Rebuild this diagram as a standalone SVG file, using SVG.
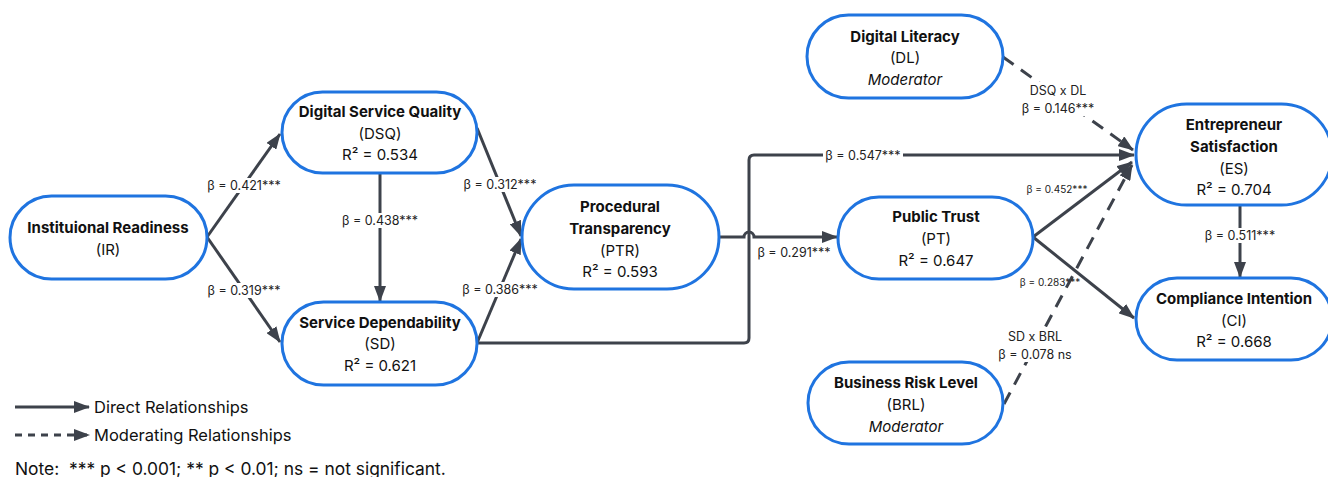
<svg xmlns="http://www.w3.org/2000/svg" width="1328" height="477" viewBox="0 0 1328 477">
  <style>
    .node { fill: #ffffff; stroke: #1f74e0; stroke-width: 3; }
    .t { font-family: Inter, "Liberation Sans", sans-serif; font-size: 15px; fill: #111; text-anchor: middle; dominant-baseline: central; }
    .b { font-weight: 700; }
    .i { font-style: italic; }
    .edge { fill: none; stroke: #3d424b; stroke-width: 3; }
    .dash { stroke-dasharray: 13 9; }
    .lbl { font-family: Inter, "Liberation Sans", sans-serif; font-size: 12.5px; fill: #222; text-anchor: middle; dominant-baseline: central; }
    .sm { font-size: 10px; }
    .bg { fill: #ffffff; }
    .leg { font-family: Inter, "Liberation Sans", sans-serif; font-size: 16.5px; fill: #111; dominant-baseline: central; }
  </style>
  <defs>
    <marker id="arrow" viewBox="0 0 16 12" refX="15" refY="6" markerWidth="16" markerHeight="12" markerUnits="userSpaceOnUse" orient="auto">
      <path d="M0,0 L16,6 L0,12 Z" fill="#3d424b"/>
    </marker>
  </defs>

  <!-- connectors -->
  <g id="connectors">
    <path class="edge" d="M207,237 L280,134" marker-end="url(#arrow)"/>
    <path class="edge" d="M207,237 L280,342" marker-end="url(#arrow)"/>
    <path class="edge" d="M380,174 L380,301" marker-end="url(#arrow)"/>
    <path class="edge" d="M477,128 L521,236" marker-end="url(#arrow)"/>
    <path class="edge" d="M477,343 L521,239" marker-end="url(#arrow)"/>
    <!-- SD to ES, routed around PTR -->
    <path class="edge" d="M477,343 L744,343 Q749,343 749,338 L749,160 Q749,155 754,155 L1134,155" marker-end="url(#arrow)"/>
    <!-- PTR to PT with a hop over the vertical run -->
    <path class="edge" d="M719,237 L744,237 A5,5 0 0 1 754,237 L837,237" marker-end="url(#arrow)"/>
    <path class="edge" d="M1033,237 L1132,162" marker-end="url(#arrow)"/>
    <path class="edge" d="M1033,237 L1134,318" marker-end="url(#arrow)"/>
    <path class="edge" d="M1240,206 L1240,277" marker-end="url(#arrow)"/>
    <path class="edge dash" d="M1003,57 L1133,150" marker-end="url(#arrow)"/>
    <path class="edge dash" d="M1004,404 L1132,165" marker-end="url(#arrow)"/>

    <!-- path coefficients -->
    <rect class="bg" x="204" y="178" width="80" height="15"/>
    <text class="lbl" x="244" y="185.5">β = 0.421***</text>
    <rect class="bg" x="204" y="283" width="80" height="15"/>
    <text class="lbl" x="244" y="290.5">β = 0.319***</text>
    <rect class="bg" x="340" y="213" width="80" height="15"/>
    <text class="lbl" x="380" y="220.5">β = 0.438***</text>
    <rect class="bg" x="460" y="177" width="80" height="15"/>
    <text class="lbl" x="500" y="184.5">β = 0.312***</text>
    <rect class="bg" x="460" y="282" width="80" height="15"/>
    <text class="lbl" x="500" y="289.5">β = 0.386***</text>
    <text class="lbl" x="794" y="252">β = 0.291***</text>
    <rect class="bg" x="823" y="148" width="80" height="15"/>
    <text class="lbl" x="863" y="155.5">β = 0.547***</text>
    <rect class="bg" x="1027" y="82" width="64" height="34"/>
    <text class="lbl" x="1058" y="90">DSQ x DL</text>
    <text class="lbl" x="1058" y="108">β = 0.146***</text>
    <text class="lbl sm" x="1057" y="189">β = 0.452***</text>
    <text class="lbl sm" x="1050" y="282">β = 0.283***</text>
    <rect class="bg" x="1200" y="228" width="80" height="15"/>
    <text class="lbl" x="1240" y="235">β = 0.511***</text>
    <rect class="bg" x="998" y="327" width="78" height="35"/>
    <text class="lbl" x="1035" y="336">SD x BRL</text>
    <text class="lbl" x="1035" y="354">β = 0.078 ns</text>
  </g>

  <g id="IR">
    <rect class="node" x="10" y="196" width="197" height="83" rx="41.5"/>
    <text class="t b" x="108" y="227">Instituional Readiness</text>
    <text class="t" x="108" y="249">(IR)</text>
  </g>
  <g id="DSQ">
    <rect class="node" x="282" y="92" width="195" height="81" rx="40.5"/>
    <text class="t b" x="380" y="111">Digital Service Quality</text>
    <text class="t" x="380" y="133">(DSQ)</text>
    <text class="t" x="380" y="154">R² = 0.534</text>
  </g>
  <g id="SD">
    <rect class="node" x="282" y="302" width="195" height="83" rx="41.5"/>
    <text class="t b" x="380" y="322">Service Dependability</text>
    <text class="t" x="380" y="343">(SD)</text>
    <text class="t" x="380" y="365">R² = 0.621</text>
  </g>
  <g id="PTR">
    <rect class="node" x="522" y="185" width="197" height="104" rx="52"/>
    <text class="t b" x="620" y="206">Procedural</text>
    <text class="t b" x="620" y="228">Transparency</text>
    <text class="t" x="620" y="250">(PTR)</text>
    <text class="t" x="620" y="271">R² = 0.593</text>
  </g>
  <g id="PT">
    <rect class="node" x="838" y="197" width="195" height="82" rx="41"/>
    <text class="t b" x="936" y="216">Public Trust</text>
    <text class="t" x="936" y="238">(PT)</text>
    <text class="t" x="936" y="260">R² = 0.647</text>
  </g>
  <g id="DL">
    <rect class="node" x="807" y="15" width="196" height="83" rx="41.5"/>
    <text class="t b" x="905" y="36">Digital Literacy</text>
    <text class="t" x="905" y="57">(DL)</text>
    <text class="t i" x="905" y="79">Moderator</text>
  </g>
  <g id="BRL">
    <rect class="node" x="808" y="362" width="195" height="82" rx="41"/>
    <text class="t b" x="906" y="382">Business Risk Level</text>
    <text class="t" x="906" y="404">(BRL)</text>
    <text class="t i" x="906" y="426">Moderator</text>
  </g>
  <g id="ES">
    <rect class="node" x="1136" y="104" width="196" height="101" rx="50.5"/>
    <text class="t b" x="1234" y="124">Entrepreneur</text>
    <text class="t b" x="1234" y="146">Satisfaction</text>
    <text class="t" x="1234" y="168">(ES)</text>
    <text class="t" x="1234" y="189">R² = 0.704</text>
  </g>
  <g id="CI">
    <rect class="node" x="1136" y="278" width="196" height="82" rx="41"/>
    <text class="t b" x="1234" y="298">Compliance Intention</text>
    <text class="t" x="1234" y="320">(CI)</text>
    <text class="t" x="1234" y="341">R² = 0.668</text>
  </g>

  <!-- legend -->
  <g id="legend">
    <path class="edge" d="M15,407 L89,407" marker-end="url(#arrow)"/>
    <text class="leg" x="94" y="407">Direct Relationships</text>
    <path class="edge" d="M15,435 L89,435" stroke-dasharray="7 6" marker-end="url(#arrow)"/>
    <text class="leg" x="94" y="435">Moderating Relationships</text>
    <text class="leg" x="15" y="468" style="font-size:17.4px" xml:space="preserve">Note:  *** p &lt; 0.001; ** p &lt; 0.01; ns = not significant.</text>
  </g>
</svg>
